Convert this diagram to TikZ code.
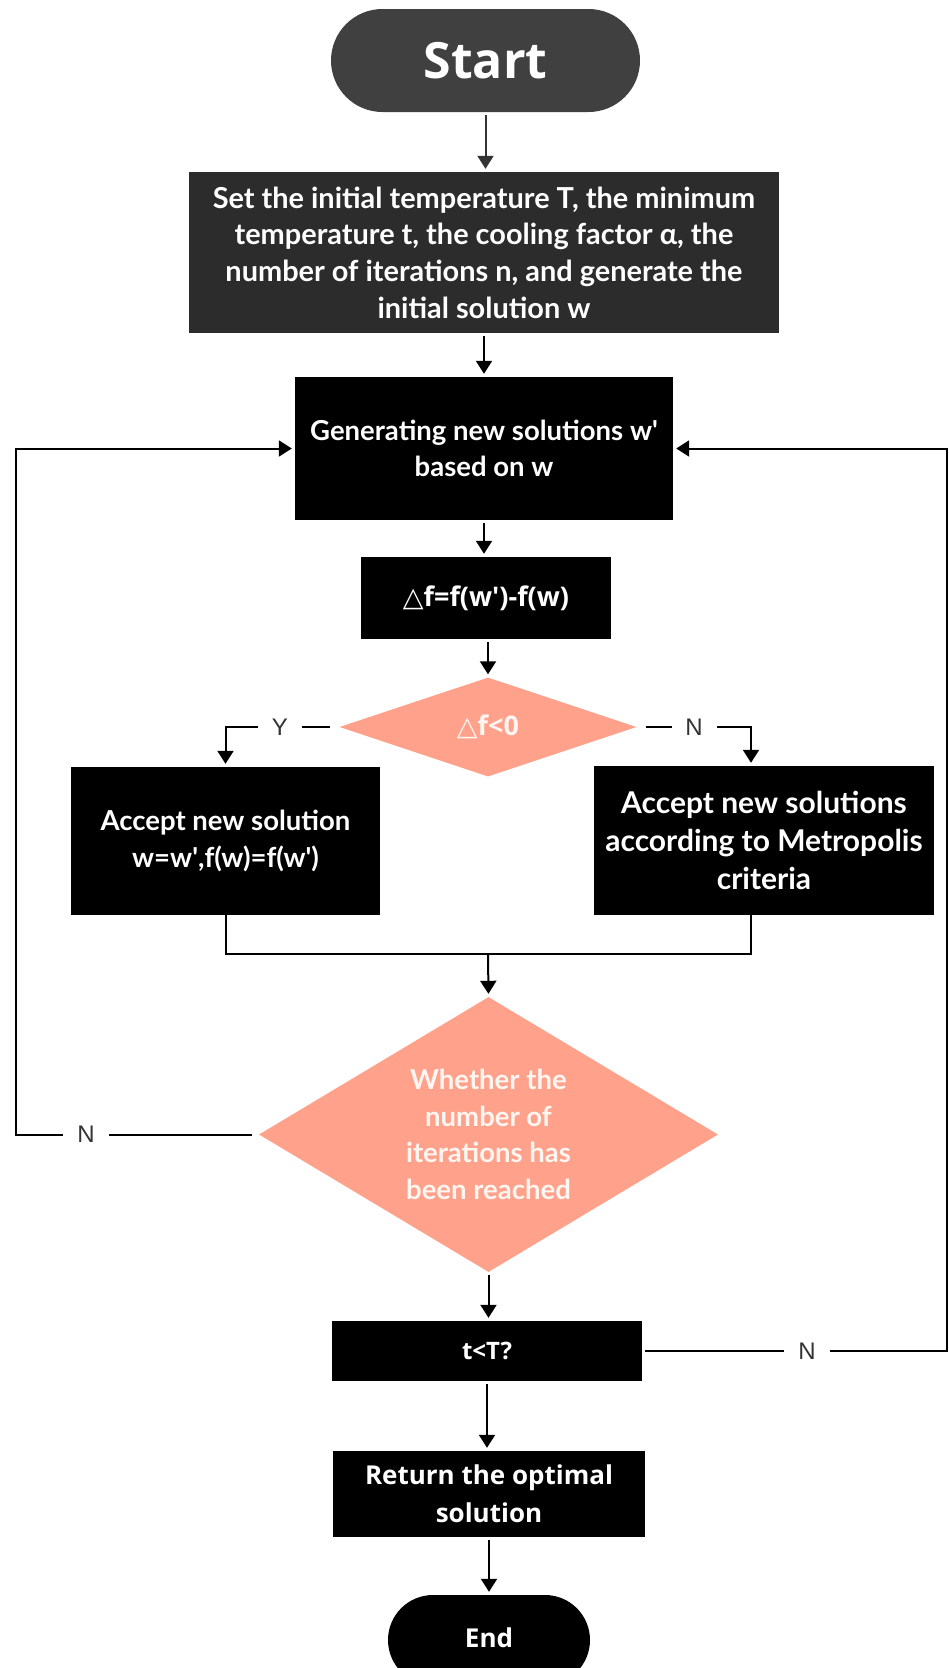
\documentclass[tikz,border=0pt]{standalone}
\usepackage{fontspec}
\setmainfont{Lato}
\newfontfamily\osans{Open Sans}
\newfontfamily\lsans{Liberation Sans}
\newfontfamily\djv{DejaVu Sans}
\usetikzlibrary{arrows.meta,shapes.geometric}
\definecolor{salmon}{HTML}{FFA18B}
\definecolor{startgray}{HTML}{404040}
\definecolor{initgray}{HTML}{2C2C2C}
\definecolor{labgray}{HTML}{333333}
\definecolor{diatext}{HTML}{FFF6F2}
\newcommand{\myq}{\textquotesingle}
\begin{document}
\begin{tikzpicture}[x=1pt,y=-1pt,
  box/.style={fill=black, text=white, inner sep=0pt, align=center,
    font={\fontsize{27.5}{36.7}\selectfont\bfseries}},
  obox/.style={fill=black, text=white, inner sep=0pt, align=center,
    font={\osans\fontsize{26}{38}\selectfont\bfseries}},
  dia/.style={diamond, fill=salmon, text=diatext, inner sep=0pt, align=center,
    font={\fontsize{27.5}{36.7}\selectfont\bfseries}},
  conn/.style={line width=2pt, -{Triangle[length=13pt,width=16pt]}, shorten <=3pt, shorten >=3pt},
  lin/.style={line width=2pt},
  lab/.style={fill=white, inner sep=0pt, text=labgray, font={\lsans\fontsize{24}{24}\selectfont}}]
\useasboundingbox (0,0) rectangle (949,1668);

% nodes
\node[fill=startgray, text=white, rounded corners=51.5pt, minimum width=309pt, minimum height=103pt, inner sep=0pt,
  font={\osans\fontsize{50}{50}\selectfont\bfseries}] (start) at (485.5,60.5) {Start};
\node[box, fill=initgray, minimum width=590pt, minimum height=161pt,
  font={\fontsize{28.9}{36.7}\selectfont\bfseries}] (init) at (484,252.5)
  {Set the initial temperature T, the minimum\\ temperature t, the cooling factor α, the\\ number of iterations n, and generate the\\ initial solution w};
\node[box, minimum width=378pt, minimum height=143pt] (gen) at (484,448.5)
  {Generating new solutions w\myq\\ based on w};
\node[box, minimum width=250pt, minimum height=82pt,
  font={\osans\fontsize{27}{36}\selectfont\bfseries}] (df) at (486,598)
  {{\djv\mdseries △}f=f(w\myq)-f(w)};
\node[dia, aspect=3, minimum width=297pt, minimum height=99pt,
  font={\osans\fontsize{27}{36}\selectfont\bfseries}] (d1) at (488,727)
  {{\djv\mdseries △}f<0};
\node[box, minimum width=309pt, minimum height=148pt] (acc) at (225.5,841)
  {Accept new solution\\ w=w\myq,f(w)=f(w\myq)};
\node[box, minimum width=340pt, minimum height=149pt,
  font={\fontsize{30}{38}\selectfont\bfseries}] (met) at (764,840.5)
  {Accept new solutions\\ according to Metropolis\\ criteria};
\node[dia, aspect=1.67, minimum width=459pt, minimum height=275pt] (d2) at (488.5,1134.5)
  {Whether the\\ number of\\ iterations has\\ been reached};
\node[obox, minimum width=310pt, minimum height=60pt,
  font={\osans\fontsize{24}{24}\selectfont\bfseries}] (tt) at (487,1351)
  {t<T?};
\node[obox, minimum width=312pt, minimum height=86pt] (ret) at (489,1494)
  {Return the optimal\\ solution};
\node[fill=black, text=white, rounded corners=45pt, minimum width=202pt, minimum height=90pt, inner sep=0pt,
  font={\osans\fontsize{26}{26}\selectfont\bfseries}] (end) at (489,1640) {\raisebox{5pt}{End}};

% helper coordinates
\coordinate (merge) at (488,954);
\coordinate (lx) at (16,0);
\coordinate (rx) at (947,0);
\coordinate (metx) at (751,0);

% main flow
\draw[conn, draw=labgray] (start.south) -- (start.south |- init.north);
\draw[conn] (init.south) -- (init.south |- gen.north);
\draw[conn] (gen.south) -- (gen.south |- df.north);
\draw[conn] (df.south -| d1.north) -- (d1.north);

% Y / N branches of d1
\draw[conn, shorten <=9pt] (d1.west) -| (acc.north);
\node[lab, minimum width=44pt, minimum height=20pt] (ylab) at (280,727) {Y};
\draw[conn, shorten <=9pt] (d1.east) -| (metx |- met.north);
\node[lab, minimum width=45pt, minimum height=20pt] (nlab1) at (694,727) {N};

% merge
\draw[lin] (acc.south) |- (merge) -| (metx |- met.south);
\draw[conn, shorten <=0pt] (merge) -- (d2.north);

% loop back from d2
\draw[conn, shorten <=7pt] (d2.west) -- (d2.west -| lx) |- (gen.west);
\node[lab, minimum width=46pt, minimum height=20pt] (nlab2) at (86,1134.5) {N};

% d2 -> t<T?
\draw[conn] (d2.south) -- (d2.south |- tt.north);

% loop back from t<T?
\draw[conn] (tt.east) -- (tt.east -| rx) |- (gen.east);
\node[lab, minimum width=46pt, minimum height=20pt] (nlab3) at (807,1351) {N};

\draw[conn] (tt.south) -- (tt.south |- ret.north);
\draw[conn] (ret.south) -- (ret.south |- end.north);
\end{tikzpicture}
\end{document}
